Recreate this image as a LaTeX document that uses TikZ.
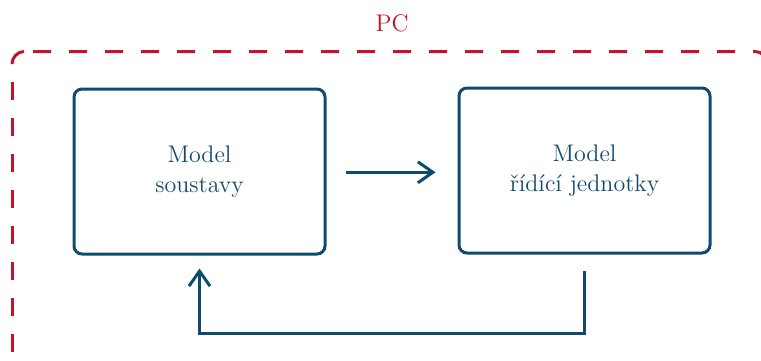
\documentclass[tikz,border=0pt]{standalone}
\usetikzlibrary{arrows.meta}

\definecolor{pcred}{RGB}{196,20,44}
\definecolor{modelblue}{RGB}{16,75,110}

\tikzset{
  blk/.style={draw=modelblue, line width=1.5pt, rounded corners=4pt,
    minimum width=125.5pt, minimum height=82.5pt, align=center,
    text=modelblue, font=\fontsize{12}{15}\selectfont},
  flow/.style={draw=modelblue, line width=1.5pt,
    -{Straight Barb[length=7.5pt,width=10.5pt,line width=1.5pt]}},
  pcline/.style={draw=pcred, line width=1.5pt},
  pcdash/.style={pcline, dash pattern=on 9pt off 9pt},
}

\begin{document}
\begin{tikzpicture}[x=0.5pt, y=-0.5pt]
  \useasboundingbox (0,0) rectangle (761,360);
  \clip (0,0) rectangle (761,360);

  % PC frame (dashed, runs past the page edges)
  \draw[pcline] (12,64) .. controls (12,57.5) and (17.5,51.5) .. (24,51.5);
  \draw[pcdash, rounded corners=6pt] (33,51.5) -- (767,51.5) -- (767,420);
  \draw[pcdash, dash phase=9pt] (12,64) -- (12,420);
  \node[text=pcred, font=\fontsize{12}{15}\selectfont, anchor=base] (pc) at (392,31.5) {PC};

  % the two model blocks
  \node[blk] (sys) at (199.5,171.5) {Model\\soustavy};
  \node[blk] (ctl) at (584.5,170.5) {Model\\řídící jednotky};

  % forward and feedback paths
  \draw[flow] ([xshift=9.5pt]sys.east |- 0,172.3) -- ([xshift=-11pt]ctl.west |- 0,172.3);
  \draw[flow] ([yshift=-8pt]ctl.south) |- ([yshift=-39pt]sys.south) -- ([yshift=-6.5pt]sys.south);
\end{tikzpicture}
\end{document}
